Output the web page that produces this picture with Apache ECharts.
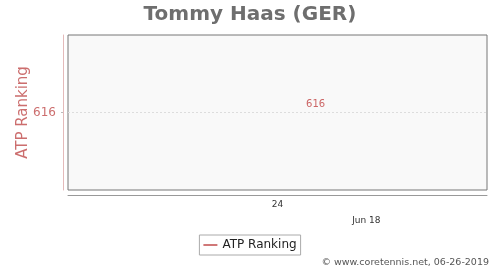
<!DOCTYPE html>
<html>
<head>
<meta charset="utf-8">
<script src="https://cdn.jsdelivr.net/npm/echarts@6/dist/echarts.min.js"></script>
<style>html,body{margin:0;padding:0;background:#fff}#c{width:500px;height:270px}</style>
</head>
<body>
<div id="c"></div>
<script>
// x values are days of June 2018
const dates = [14];
const rankings = [616];
const weekTickPositions = [11];
const weekTickLabels = ['24'];
const dateTickPositions = [18];
const dateTickLabels = ['Jun 18'];
const yTicks = [616];

const FONT = 'DejaVu Sans';
const chart = echarts.init(document.getElementById('c'), null, {renderer: 'canvas'});
chart.setOption({
  animation: false,
  backgroundColor: '#fff',
  title: {
    text: 'Tommy Haas (GER)',
    left: 'center',
    top: 0,
    textStyle: {fontFamily: FONT, fontSize: 20, fontWeight: 'bold', color: '#6e6e6e'}
  },
  grid: {
    left: 68, right: 13, top: 35, bottom: 80,
    outerBoundsMode: 'none', containLabel: false,
    show: true, backgroundColor: '#f9f9f9', borderColor: '#777', borderWidth: 1
  },
  legend: {
    data: ['ATP Ranking'],
    left: 'center', top: 235,
    borderColor: '#aaa', borderWidth: 1, borderRadius: 0,
    padding: [4, 4, 4, 4],
    itemWidth: 14, itemHeight: 2, itemGap: 5,
    icon: 'rect',
    textStyle: {fontFamily: FONT, fontSize: 12, color: '#222'}
  },
  xAxis: [{
    type: 'value', min: -5.5, max: 27.5, position: 'bottom', offset: 5,
    axisLine: {show: true, onZero: false, lineStyle: {color: '#999', width: 1}},
    axisTick: {show: false},
    splitLine: {show: false},
    axisLabel: {
      customValues: weekTickPositions,
      formatter: v => weekTickLabels[weekTickPositions.indexOf(v)] || '',
      margin: 5, fontFamily: FONT, fontSize: 9, color: '#333'
    }
  }, {
    type: 'value', min: -5.5, max: 27.5, position: 'bottom', offset: 5,
    axisLine: {show: false, onZero: false},
    axisTick: {show: false},
    splitLine: {show: false},
    axisLabel: {
      customValues: dateTickPositions,
      formatter: v => dateTickLabels[dateTickPositions.indexOf(v)] || '',
      margin: 21, fontFamily: FONT, fontSize: 9, color: '#333'
    }
  }],
  yAxis: {
    type: 'value', min: 614, max: 618, interval: 2, offset: 5, position: 'left',
    name: 'ATP Ranking', nameLocation: 'middle', nameGap: 32, nameMoveOverlap: false,
    nameTextStyle: {fontFamily: FONT, fontSize: 15, color: '#cc6e6e'},
    axisLine: {show: true, onZero: false, lineStyle: {color: '#e4baba', width: 1}},
    axisTick: {show: true, customValues: yTicks, length: 2, lineStyle: {color: '#bbb'}},
    splitLine: {show: true, lineStyle: {color: '#ddd', type: [2, 2], width: 1}},
    axisLabel: {
      customValues: yTicks,
      margin: 7, fontFamily: FONT, fontSize: 12, color: '#cc6e6e'
    }
  },
  series: [{
    name: 'ATP Ranking',
    type: 'line',
    data: dates.map((d, i) => [d, rankings[i]]),
    symbol: 'circle', symbolSize: 0,
    lineStyle: {color: '#d07878', width: 2},
    itemStyle: {color: '#d07878'},
    label: {show: true, position: 'top', distance: 3, fontFamily: FONT, fontSize: 10, color: '#cc6666'}
  }],
  graphic: [{
    type: 'text', right: 11, top: 258,
    style: {text: '© www.coretennis.net, 06-26-2019', fontFamily: FONT, fontSize: 9.5, fill: '#555'}
  }]
});
</script>
</body>
</html>
